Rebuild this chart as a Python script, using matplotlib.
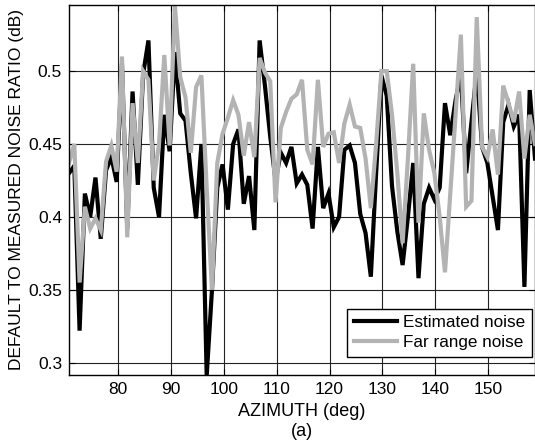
import numpy as np
import matplotlib
matplotlib.use("Agg")
import matplotlib.pyplot as plt

plt.rcParams['font.family'] = ['Liberation Sans', 'DejaVu Sans']

az_start = 70.8
estimated = [
    0.430, 0.435, 0.322, 0.416, 0.400, 0.427, 0.385, 0.432, 0.441, 0.424,
    0.505, 0.392, 0.486, 0.422, 0.498, 0.521, 0.420, 0.400, 0.470, 0.445,
    0.513, 0.471, 0.466, 0.430, 0.399, 0.450, 0.291, 0.350, 0.420, 0.436,
    0.405, 0.450, 0.460, 0.409, 0.428, 0.391, 0.521, 0.490, 0.455, 0.425,
    0.444, 0.437, 0.448, 0.423, 0.429, 0.422, 0.392, 0.448, 0.406, 0.416,
    0.393, 0.400, 0.446, 0.449, 0.437, 0.402, 0.389, 0.359, 0.430, 0.497,
    0.483, 0.421, 0.390, 0.367, 0.400, 0.437, 0.358, 0.409, 0.420, 0.412,
    0.420, 0.478, 0.456, 0.480, 0.498, 0.430, 0.465, 0.500, 0.448, 0.437,
    0.414, 0.391, 0.465, 0.477, 0.462, 0.470, 0.352, 0.487, 0.440]
far_range = [
    0.437, 0.450, 0.355, 0.407, 0.392, 0.399, 0.391, 0.438, 0.449, 0.431,
    0.510, 0.386, 0.478, 0.437, 0.500, 0.494, 0.425, 0.450, 0.511, 0.449,
    0.545, 0.496, 0.482, 0.444, 0.489, 0.497, 0.420, 0.350, 0.437, 0.457,
    0.468, 0.480, 0.470, 0.442, 0.465, 0.441, 0.509, 0.499, 0.493, 0.410,
    0.461, 0.472, 0.481, 0.484, 0.494, 0.446, 0.436, 0.494, 0.448, 0.457,
    0.458, 0.437, 0.464, 0.477, 0.462, 0.461, 0.440, 0.406, 0.450, 0.500,
    0.500, 0.470, 0.430, 0.382, 0.440, 0.505, 0.396, 0.471, 0.446, 0.430,
    0.400, 0.362, 0.416, 0.470, 0.525, 0.407, 0.411, 0.537, 0.448, 0.441,
    0.460, 0.429, 0.490, 0.478, 0.465, 0.486, 0.440, 0.470, 0.450]
azimuth = az_start + np.arange(len(estimated))

x_ticks = [80, 90, 100, 110, 120, 130, 140, 150]
y_ticks = [0.3, 0.35, 0.4, 0.45, 0.5]
y_tick_labels = ['0.3', '0.35', '0.4', '0.45', '0.5']

W, H = 535, 444
fig = plt.figure(figsize=(W / 100, H / 100), dpi=100)
ax = fig.add_axes([69 / W, 1 - 375 / H, (W - 69) / W, 370 / H])

ax.plot(azimuth, estimated, color='black', lw=3.0, label='Estimated noise', solid_joinstyle='miter')
ax.plot(azimuth, far_range, color='#b3b3b3', lw=3.0, label='Far range noise', solid_joinstyle='miter')

ax.set_xlim(azimuth[0], azimuth[-1])
ax.set_ylim(0.2916, 0.5453)
ax.set_xticks(x_ticks)
ax.set_yticks(y_ticks)
ax.set_yticklabels(y_tick_labels)
ax.grid(True, color='#222222', lw=0.8)
ax.set_axisbelow(True)
ax.tick_params(direction='in', top=True, right=True, labelsize=12.5, length=4, width=0.8, pad=5)
for s in ax.spines.values():
    s.set_linewidth(1.0)

ax.set_xlabel('AZIMUTH (deg)\n(a)', fontsize=13, labelpad=4, linespacing=1.25)
ax.set_ylabel('DEFAULT TO MEASURED NOISE RATIO (dB)', fontsize=12.5, labelpad=3)

leg = ax.legend(loc='lower right', bbox_to_anchor=(0.993, 0.05), borderaxespad=0,
                fancybox=False, edgecolor='black', fontsize=12.3, handlelength=2.5,
                handletextpad=0.35, labelspacing=0.25, borderpad=0.4, framealpha=1)
leg.get_frame().set_linewidth(1.0)

fig.savefig('out.png', dpi=100)
